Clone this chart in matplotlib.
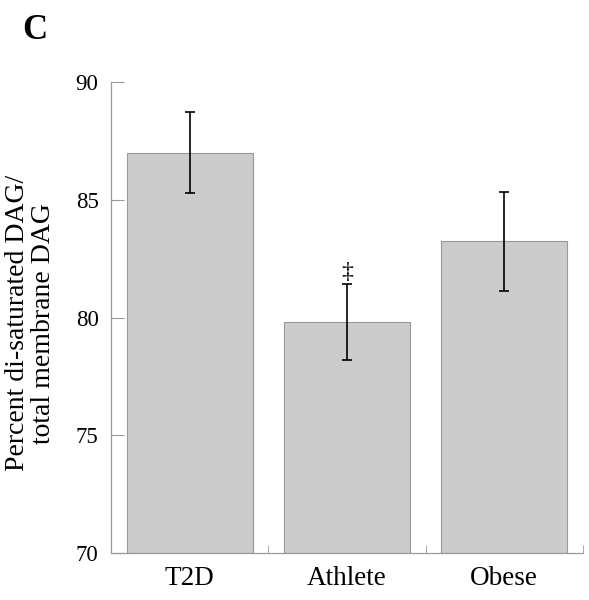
import matplotlib.pyplot as plt
import numpy as np

# datos del panel C
grupos = ["T2D", "Athlete", "Obese"]
medias = [87.0, 79.8, 83.25]
errores = [1.72, 1.61, 2.1]
marcas = ["", "‡", ""]
yticks = [70, 75, 80, 85, 90]

plt.rcParams['font.family'] = ['Liberation Serif', 'DejaVu Serif']

fig = plt.figure(figsize=(5.89, 6.0), dpi=100)
ax = fig.add_axes([0.1885, 0.078, 0.801, 0.785])

x = np.arange(len(grupos))
ax.bar(x, np.array(medias) - 70, bottom=70, width=0.8, color='#cccccc',
       edgecolor='#999999', linewidth=0.8, zorder=2)
ax.errorbar(x, medias, yerr=errores, fmt='none', ecolor='black',
            elinewidth=1.2, capsize=3.5, capthick=1.2, zorder=3)
for xi, m, e, t in zip(x, medias, errores, marcas):
    if t:
        ax.text(xi, m + e + 0.05, t, ha='center', va='bottom', fontsize=17)

ax.set_xlim(-0.5, 2.5)
ax.set_ylim(70, 90)
ax.set_yticks(yticks)
ax.set_xticks(x)
ax.set_xticklabels(grupos)
ax.set_xticks([0.5, 1.5, 2.5], minor=True)
ax.tick_params(axis='x', which='major', length=0, pad=9, labelsize=19.5)
ax.tick_params(axis='x', which='minor', direction='in', length=6, color='#999999')
ax.tick_params(axis='y', direction='in', length=9, color='#999999',
               labelsize=16.5, pad=9)
for lado in ['top', 'right']:
    ax.spines[lado].set_visible(False)
for lado in ['left', 'bottom']:
    ax.spines[lado].set_color('#999999')
    ax.spines[lado].set_linewidth(0.9)

ax.set_ylabel("Percent di-saturated DAG/\ntotal membrane DAG", fontsize=20,
              linespacing=1.05)
ax.yaxis.set_label_coords(-0.117, 0.488)
fig.text(0.038, 0.935, "C", fontsize=25, fontweight='bold')

fig.savefig("out.png", dpi=100)
